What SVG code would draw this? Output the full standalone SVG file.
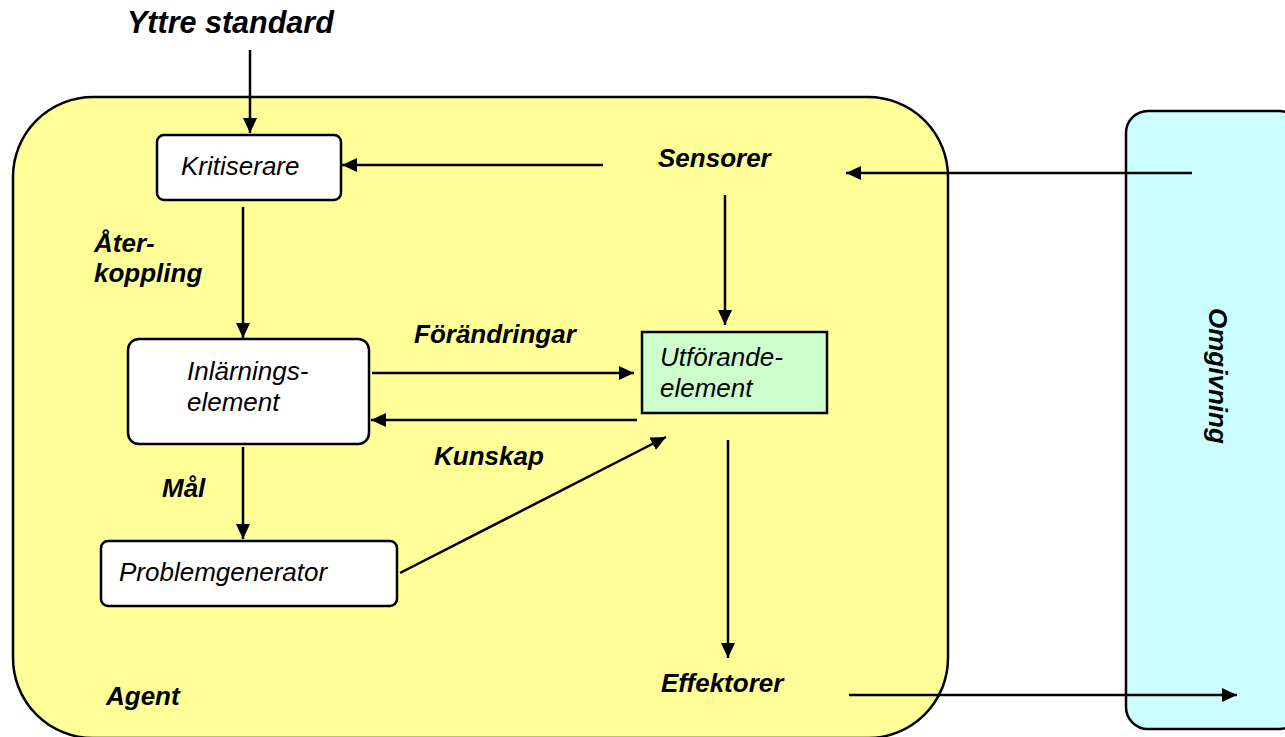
<svg xmlns="http://www.w3.org/2000/svg" width="1285" height="737" viewBox="0 0 1285 737">
  <style>
    .box { stroke: #000; stroke-width: 2.5; }
    .node { fill: #fff; stroke: #000; stroke-width: 2.5; }
    .txt { font-family: "Liberation Sans", Arial, sans-serif; font-style: italic; font-size: 26px; fill: #000; }
    .lbl { font-family: "Liberation Sans", Arial, sans-serif; font-style: italic; font-weight: bold; font-size: 26px; fill: #000; }
    .wire { fill: none; stroke: #000; stroke-width: 2.5; marker-end: url(#arrow); }
  </style>
  <defs>
    <marker id="arrow" markerUnits="userSpaceOnUse" markerWidth="16" markerHeight="14" refX="15" refY="7" orient="auto">
      <path d="M0,0 L15,7 L0,14 Z" fill="#000"/>
    </marker>
  </defs>

  <rect width="1285" height="737" fill="#fff"/>

  <!-- Agent container -->
  <g id="agent">
    <rect class="box" x="13" y="97" width="935" height="641" rx="80" ry="80" fill="#ffff99"/>
    <text class="lbl" x="106" y="705">Agent</text>
  </g>

  <!-- Environment -->
  <g id="omgivning">
    <rect class="box" x="1126" y="111" width="175" height="618" rx="22" ry="22" fill="#ccffff"/>
    <text class="lbl" transform="translate(1209,308) rotate(90)" style="font-size:26px">Omgivning</text>
  </g>

  <g id="yttre-standard">
    <text class="lbl" x="127" y="33" style="font-size:30.5px">Yttre standard</text>
  </g>

  <g id="kritiserare">
    <rect class="node" x="157" y="135" width="184" height="65" rx="7" ry="7"/>
    <text class="txt" x="181" y="175">Kritiserare</text>
  </g>

  <g id="inlarningselement">
    <rect class="node" x="128" y="339" width="241" height="105" rx="11" ry="11"/>
    <text class="txt" x="187" y="380">Inlärnings-</text>
    <text class="txt" x="187" y="411">element</text>
  </g>

  <g id="utforandeelement">
    <rect class="box" x="642" y="332" width="185" height="81" fill="#ccffcc"/>
    <text class="txt" x="660" y="366">Utförande-</text>
    <text class="txt" x="660" y="397">element</text>
  </g>

  <g id="problemgenerator">
    <rect class="node" x="101" y="541" width="296" height="65" rx="7" ry="7"/>
    <text class="txt" x="119" y="581">Problemgenerator</text>
  </g>

  <g id="sensorer">
    <text class="lbl" x="658" y="167">Sensorer</text>
  </g>

  <g id="effektorer">
    <text class="lbl" x="661" y="692">Effektorer</text>
  </g>

  <!-- Connectors -->
  <g id="connectors">
    <line class="wire" x1="250" y1="50" x2="250" y2="133"/>
    <line class="wire" x1="603" y1="165" x2="342" y2="165"/>
    <line class="wire" x1="1192" y1="173" x2="846" y2="173"/>
    <line class="wire" x1="243" y1="207" x2="243" y2="338"/>
    <line class="wire" x1="725" y1="195" x2="725" y2="325"/>
    <line class="wire" x1="372" y1="373" x2="634" y2="373"/>
    <line class="wire" x1="637" y1="420" x2="371" y2="420"/>
    <line class="wire" x1="243" y1="447" x2="243" y2="539"/>
    <line class="wire" x1="400" y1="573" x2="666" y2="437"/>
    <line class="wire" x1="728" y1="440" x2="728" y2="658"/>
    <line class="wire" x1="849" y1="695" x2="1237" y2="695"/>
    <text class="lbl" x="94" y="252">Åter-</text>
    <text class="lbl" x="94" y="282">koppling</text>
    <text class="lbl" x="414" y="343">Förändringar</text>
    <text class="lbl" x="434" y="465">Kunskap</text>
    <text class="lbl" x="162" y="497">Mål</text>
  </g>
</svg>
